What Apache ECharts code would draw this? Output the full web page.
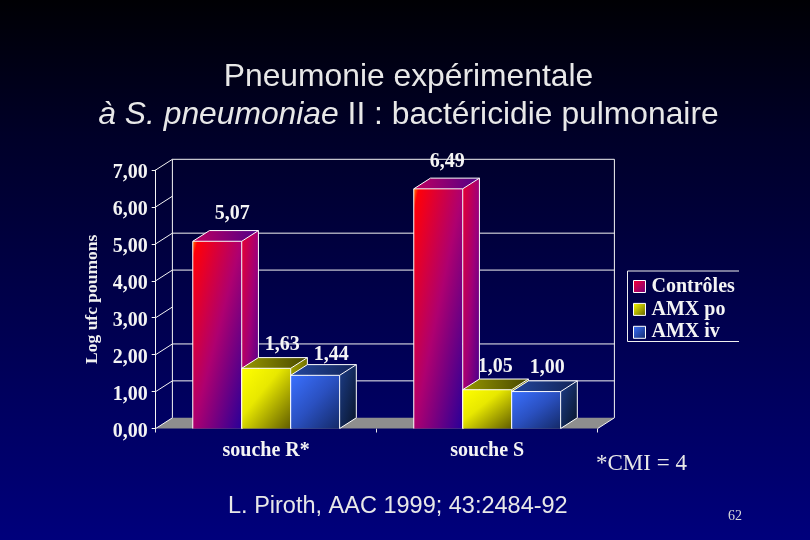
<!DOCTYPE html>
<html><head><meta charset="utf-8">
<style>html,body{margin:0;padding:0;background:#000}#c{width:810px;height:540px}</style>
<script src="https://cdn.jsdelivr.net/npm/echarts@6/dist/echarts.min.js"></script>
</head><body><div id="c"></div>
<script>
const categories = ['souche R*', 'souche S'];
const seriesNames = ['Contrôles', 'AMX po', 'AMX iv'];
const controles = [5.07, 6.49];
const amxPo = [1.63, 1.05];
const amxIv = [1.44, 1.00];
const yTicks = [0, 1, 2, 3, 4, 5, 6, 7];
const backWallLines = [1, 2, 4, 5, 7];

// layout and style only
const DX = 16.7, DY = -10.7, BAR_RATIO = 0.2215;
const SERIF = '"Liberation Serif", serif';
const labelNudge = [[[15, -27], [9, -27]], [[16, -23], [8, -23]], [[16, -20], [11, -24]]];
function lg(x, y, x2, y2, stops) {
  return { type: 'linear', x, y, x2, y2, colorStops: stops.map(c => ({ offset: c[0], color: c[1] })) };
}
// gradient whose equal-colour lines run along the box's other diagonal
function diag(w, h, stops) {
  const d = h * h + w * w;
  return lg(0, 0, 2 * h * h / d, 2 * w * w / d, stops);
}
const palettes = [
  { front: [[0, '#ff8000'], [0.05, '#ff0008'], [0.5, '#ae0070'], [1, '#280098']],
    side: [[0, '#e80030'], [0.5, '#a00078'], [1, '#380090']],
    top: lg(0, 0, 1, 0, [[0, '#c00060'], [1, '#500088']]),
    legend: lg(0, 0, 1, 1, [[0, '#ff0030'], [1, '#700080']]) },
  { front: [[0, '#ffff00'], [0.4, '#e8e800'], [1, '#605c00']],
    side: [[0, '#a8a800'], [1, '#404000']],
    top: lg(0, 0, 1, 0, [[0, '#989800'], [1, '#484800']]),
    legend: lg(0, 0, 1, 1, [[0, '#ffff00'], [1, '#606000']]) },
  { front: [[0, '#3a70ff'], [0.5, '#2a50c0'], [1, '#142a68']],
    side: [[0, '#1c3c88'], [1, '#081428']],
    top: lg(0, 0, 1, 0, [[0, '#24479c'], [1, '#122458']]),
    legend: lg(0, 0, 1, 1, [[0, '#3a70ff'], [1, '#142a68']]) }
];

function fmt(v) { return v.toFixed(2).replace('.', ','); }

function renderWall(params, api) {
  const v = api.value(0);
  const p = api.coord([0, v]);
  const left = params.coordSys.x, right = left + params.coordSys.width;
  const y = p[1];
  const children = [];
  const line = (x1, y1, x2, y2) => ({ type: 'line', shape: { x1, y1, x2, y2 }, style: { stroke: '#f4f4f4', lineWidth: 1 } });
  if (v === 0) {
    children.push({ type: 'polygon', shape: { points: [[left, y], [left + DX, y + DY], [right + DX, y + DY], [right, y]] },
      style: { fill: '#8e8e8e' } });
    const yTop = api.coord([0, yTicks[yTicks.length - 1]])[1] + DY;
    children.push(line(left + DX, y + DY, left + DX, yTop));
    children.push(line(right + DX, y + DY, right + DX, yTop));
    children.push(line(right, y, right + DX, y + DY));
  }
  children.push(line(left, y, left + DX, y + DY));
  if (backWallLines.indexOf(v) >= 0) children.push(line(left + DX, y + DY, right + DX, y + DY));
  return { type: 'group', children };
}

function makeBarRender(si) {
  return function (params, api) {
    const cat = api.value(0), val = api.value(1);
    const c = api.coord([cat, val]), base = api.coord([cat, 0]);
    const band = api.size([1, 0])[0];
    const w = band * BAR_RATIO;
    const x0 = c[0] + (si - 1.5) * w, x1 = x0 + w;
    const yT = c[1], yB = base[1], h = yB - yT;
    const edge = { stroke: '#ffffff', lineWidth: 1, fill: null };
    const nudge = labelNudge[si][cat];
    return { type: 'group', children: [
      { type: 'polygon', shape: { points: [[x1, yT], [x1 + DX, yT + DY], [x1 + DX, yB + DY], [x1, yB]] },
        style: { fill: diag(DX, h - DY, palettes[si].side) } },
      { type: 'polygon', shape: { points: [[x0, yT], [x0 + DX, yT + DY], [x1 + DX, yT + DY], [x1, yT]] }, style: { fill: palettes[si].top } },
      { type: 'rect', shape: { x: x0, y: yT, width: w, height: h }, style: { fill: diag(w, h, palettes[si].front) } },
      { type: 'polyline', shape: { points: [[x0, yB], [x0, yT], [x1, yT], [x1, yB], [x1 + DX, yB + DY], [x1 + DX, yT + DY], [x0 + DX, yT + DY], [x0, yT]] }, style: edge },
      { type: 'line', shape: { x1: x1, y1: yT, x2: x1 + DX, y2: yT + DY }, style: { stroke: '#ffffff', lineWidth: 1 } },
      { type: 'text', style: { text: fmt(val), x: (x0 + x1) / 2 + nudge[0], y: yT + nudge[1], align: 'center', verticalAlign: 'middle',
          fill: '#f4f4f4', font: 'bold 20px ' + SERIF } }
    ] };
  };
}

const allValues = [controles, amxPo, amxIv];
const chart = echarts.init(document.getElementById('c'), null, { renderer: 'canvas', width: 810, height: 540 });
chart.setOption({
  animation: false,
  backgroundColor: lg(0, 0, 0, 1, [[0, '#000004'], [0.25, '#000028'], [1, '#00007c']]),
  title: {
    left: 403.5, top: 53, textAlign: 'center',
    text: 'Pneumonie expérimentale\n{i|à S. pneumoniae} II : bactéricidie pulmonaire',
    textStyle: { color: '#e8e8e8', fontFamily: '"Liberation Sans"', fontSize: 31.8, fontWeight: 'normal', lineHeight: 38,
      rich: { i: { fontStyle: 'italic', fontSize: 31.8, color: '#e8e8e8', fontFamily: '"Liberation Sans"', lineHeight: 38 } } }
  },
  grid: { left: 155.7, top: 170, width: 442, height: 258.5, containLabel: false },
  legend: {
    orient: 'vertical', left: 633, top: 276.5, padding: 0, itemWidth: 12, itemHeight: 12, itemGap: 2.9, selectedMode: false,
    textStyle: { color: '#f4f4f4', fontFamily: SERIF, fontWeight: 'bold', fontSize: 20, padding: [0, 0, 0, 1] },
    data: seriesNames.map((n, i) => ({ name: n, icon: 'rect', itemStyle: { color: palettes[i].legend, borderColor: '#fff', borderWidth: 1 } }))
  },
  xAxis: {
    type: 'category', data: categories,
    axisLine: { show: false },
    axisTick: { show: true, length: 4, lineStyle: { color: '#e8e8e8' } },
    axisLabel: { color: '#f4f4f4', fontFamily: SERIF, fontWeight: 'bold', fontSize: 20, margin: 12 },
    splitLine: { show: false }
  },
  yAxis: {
    type: 'value', min: 0, max: 7, interval: 1,
    name: 'Log ufc poumons', nameLocation: 'middle', nameRotate: 90, nameGap: 54,
    nameTextStyle: { color: '#f0f0f0', fontFamily: SERIF, fontWeight: 'bold', fontSize: 17.5 },
    axisLine: { show: true, lineStyle: { color: '#f4f4f4', width: 1 } },
    axisTick: { show: true, length: 4, lineStyle: { color: '#f4f4f4' } },
    axisLabel: { color: '#f4f4f4', fontFamily: SERIF, fontWeight: 'bold', fontSize: 20, margin: 8, verticalAlign: 'top', lineHeight: 6, formatter: fmt },
    splitLine: { show: false }
  },
  series: [
    { type: 'custom', name: '_walls', silent: true, coordinateSystem: 'cartesian2d', z: 1,
      data: yTicks.map(v => [v]), encode: { y: 0 }, renderItem: renderWall }
  ].concat(seriesNames.map((name, si) => ({
    type: 'custom', name, coordinateSystem: 'cartesian2d', z: 2 + si,
    data: allValues[si].map((v, i) => [i, v]), encode: { x: 0, y: 1 },
    itemStyle: { color: palettes[si].legend },
    renderItem: makeBarRender(si)
  }))),
  graphic: [
    { type: 'polyline', shape: { points: [[739, 271], [627.5, 271], [627.5, 341.5], [739, 341.5]] }, style: { stroke: '#f0f0f0', lineWidth: 1, fill: null } },
    { type: 'text', x: 596, y: 464, style: { text: '*CMI = 4', fill: '#e8e8e8', font: '23px ' + SERIF, verticalAlign: 'middle' } },
    { type: 'text', x: 228, y: 507, style: { text: 'L. Piroth, AAC 1999; 43:2484-92', fill: '#e8e8e8', font: '23.5px "Liberation Sans"', verticalAlign: 'middle' } },
    { type: 'text', x: 728, y: 516, style: { text: '62', fill: '#d8d8d8', font: '14px ' + SERIF, verticalAlign: 'middle' } }
  ]
});
</script></body></html>
